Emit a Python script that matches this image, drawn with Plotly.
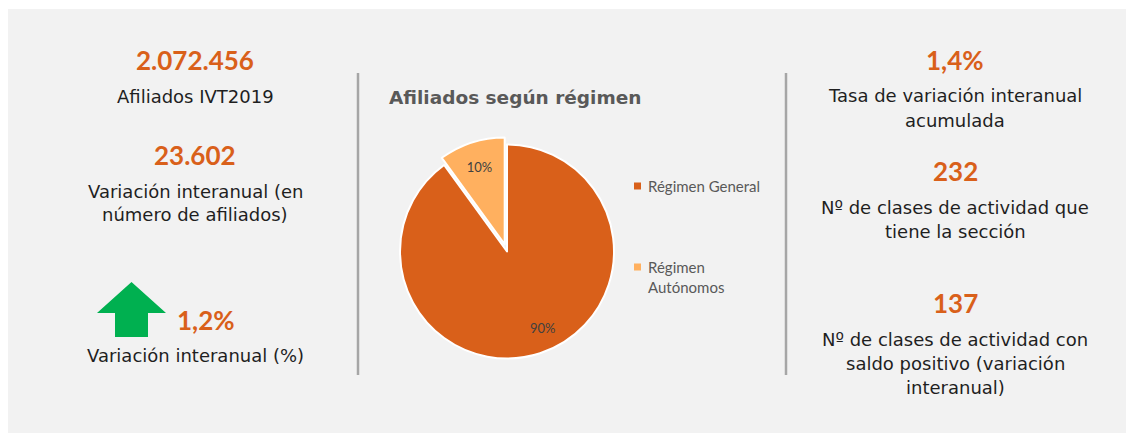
import plotly.graph_objects as go

# la página HTML deja un margen de 8 px; las coordenadas se dan en píxeles de la imagen
OFF = 8
W, H = 1126, 427

# datos
regimen_labels = ["Régimen General", "Régimen Autónomos"]
regimen_values = [90, 10]
regimen_colors = ["#D9601A", "#FFB05F"]

kpi_left = ["2.072.456", "23.602", "1,2%"]
kpi_left_desc = [["Afiliados IVT2019"],
                 ["Variación interanual (en", "número de afiliados)"],
                 ["Variación interanual (%)"]]
kpi_right = ["1,4%", "232", "137"]
kpi_right_desc = [["Tasa de variación interanual", "acumulada"],
                  ["Nº de clases de actividad que", "tiene la sección"],
                  ["Nº de clases de actividad con", "saldo positivo (variación", "interanual)"]]

ORANGE = "#D9601A"
TXT = "#1F1F1F"
GREY = "#595959"
NUM_FONT = "Lato"
BODY_FONT = "DejaVu Sans"


def px(x):
    return (x - OFF) / W


def py(y):
    return 1 - (y - OFF) / H


fig = go.Figure()

# tarta
cx, cy, r, pull = 507, 251.5, 107, 0.07
half = r * (1 + pull)
fig.add_trace(go.Pie(
    labels=regimen_labels, values=regimen_values,
    marker=dict(colors=regimen_colors, line=dict(color="white", width=2)),
    sort=False, direction="clockwise", rotation=0,
    pull=[0, pull],
    texttemplate=["", "%{percent:.0%}"], textposition="inside",
    insidetextorientation="horizontal",
    textfont=dict(family=NUM_FONT, size=13, color="#404040"),
    domain=dict(x=[px(cx - half), px(cx + half)], y=[py(cy + half), py(cy - half)]),
    showlegend=False, hoverinfo="label+percent",
))

shapes = [
    dict(type="rect", xref="paper", yref="paper", x0=px(8), x1=px(1134), y0=py(433), y1=py(9),
         fillcolor="#F2F2F2", line=dict(width=0), layer="below"),
    dict(type="line", xref="paper", yref="paper", x0=px(358), x1=px(358), y0=py(375), y1=py(73),
         line=dict(color="#A6A6A6", width=2.5)),
    dict(type="line", xref="paper", yref="paper", x0=px(786), x1=px(786), y0=py(375), y1=py(73),
         line=dict(color="#A6A6A6", width=2.5)),
]

# flecha verde
pts = [(131.5, 282), (166, 313), (148, 313), (148, 337), (115, 337), (115, 313), (97, 313)]
path = "M " + " L ".join(f"{px(a):.5f},{py(b):.5f}" for a, b in pts) + " Z"
shapes.append(dict(type="path", xref="paper", yref="paper", path=path,
                   fillcolor="#00B050", line=dict(width=0)))

ann = []


def txt(x, y, s, size, color, family, weight="normal", anchor="center"):
    ann.append(dict(x=px(x), y=py(y), xref="paper", yref="paper", text=s, showarrow=False,
                    xanchor=anchor, yanchor="middle",
                    font=dict(family=family, size=size, color=color, weight=weight)))


# etiqueta del 90% (a lo largo de la bisectriz, algo desplazada como en el original)
tot = sum(regimen_values)
ang = 360 * (regimen_values[0] / 2) / tot - 7
import math
lx = cx + 0.79 * r * math.sin(math.radians(ang))
ly = cy - 0.79 * r * math.cos(math.radians(ang))
txt(lx, ly, f"{regimen_values[0] / tot:.0%}", 13, "#404040", NUM_FONT)

# columna izquierda
left_num_y = [60, 155, 320]
left_desc_y = [[96], [191, 214], [355]]
for i, v in enumerate(kpi_left):
    xnum = 206 if i == 2 else 195
    txt(xnum, left_num_y[i], v, 26, ORANGE, NUM_FONT, "bold")
    for line, yy in zip(kpi_left_desc[i], left_desc_y[i]):
        txt(195, yy, line, 18, TXT, BODY_FONT)

# columna derecha
right_num_y = [60, 171, 303]
right_desc_y = [[95, 120], [207, 231], [339, 363, 387]]
for i, v in enumerate(kpi_right):
    txt(955, right_num_y[i], v, 26, ORANGE, NUM_FONT, "bold")
    for line, yy in zip(kpi_right_desc[i], right_desc_y[i]):
        txt(955, yy, line, 18, TXT, BODY_FONT)

# título del gráfico
txt(387, 97, "Afiliados según régimen", 18.5, GREY, BODY_FONT, "bold", anchor="left")

# leyenda
leg_y = [186, 267]
leg_lines = [["Régimen General"], ["Régimen", "Autónomos"]]
for i, lab in enumerate(leg_lines):
    shapes.append(dict(type="rect", xref="paper", yref="paper",
                       x0=px(634), x1=px(641), y0=py(leg_y[i] + 3.5), y1=py(leg_y[i] - 3.5),
                       fillcolor=regimen_colors[i], line=dict(width=0)))
    for j, line in enumerate(lab):
        txt(646, leg_y[i] + 20 * j, line, 15, GREY, NUM_FONT, anchor="left")

fig.update_layout(
    width=W, height=H,
    margin=dict(l=0, r=0, t=0, b=0),
    paper_bgcolor="white", plot_bgcolor="white",
    shapes=shapes, annotations=ann,
    showlegend=False,
)

fig.write_html("out.html")
